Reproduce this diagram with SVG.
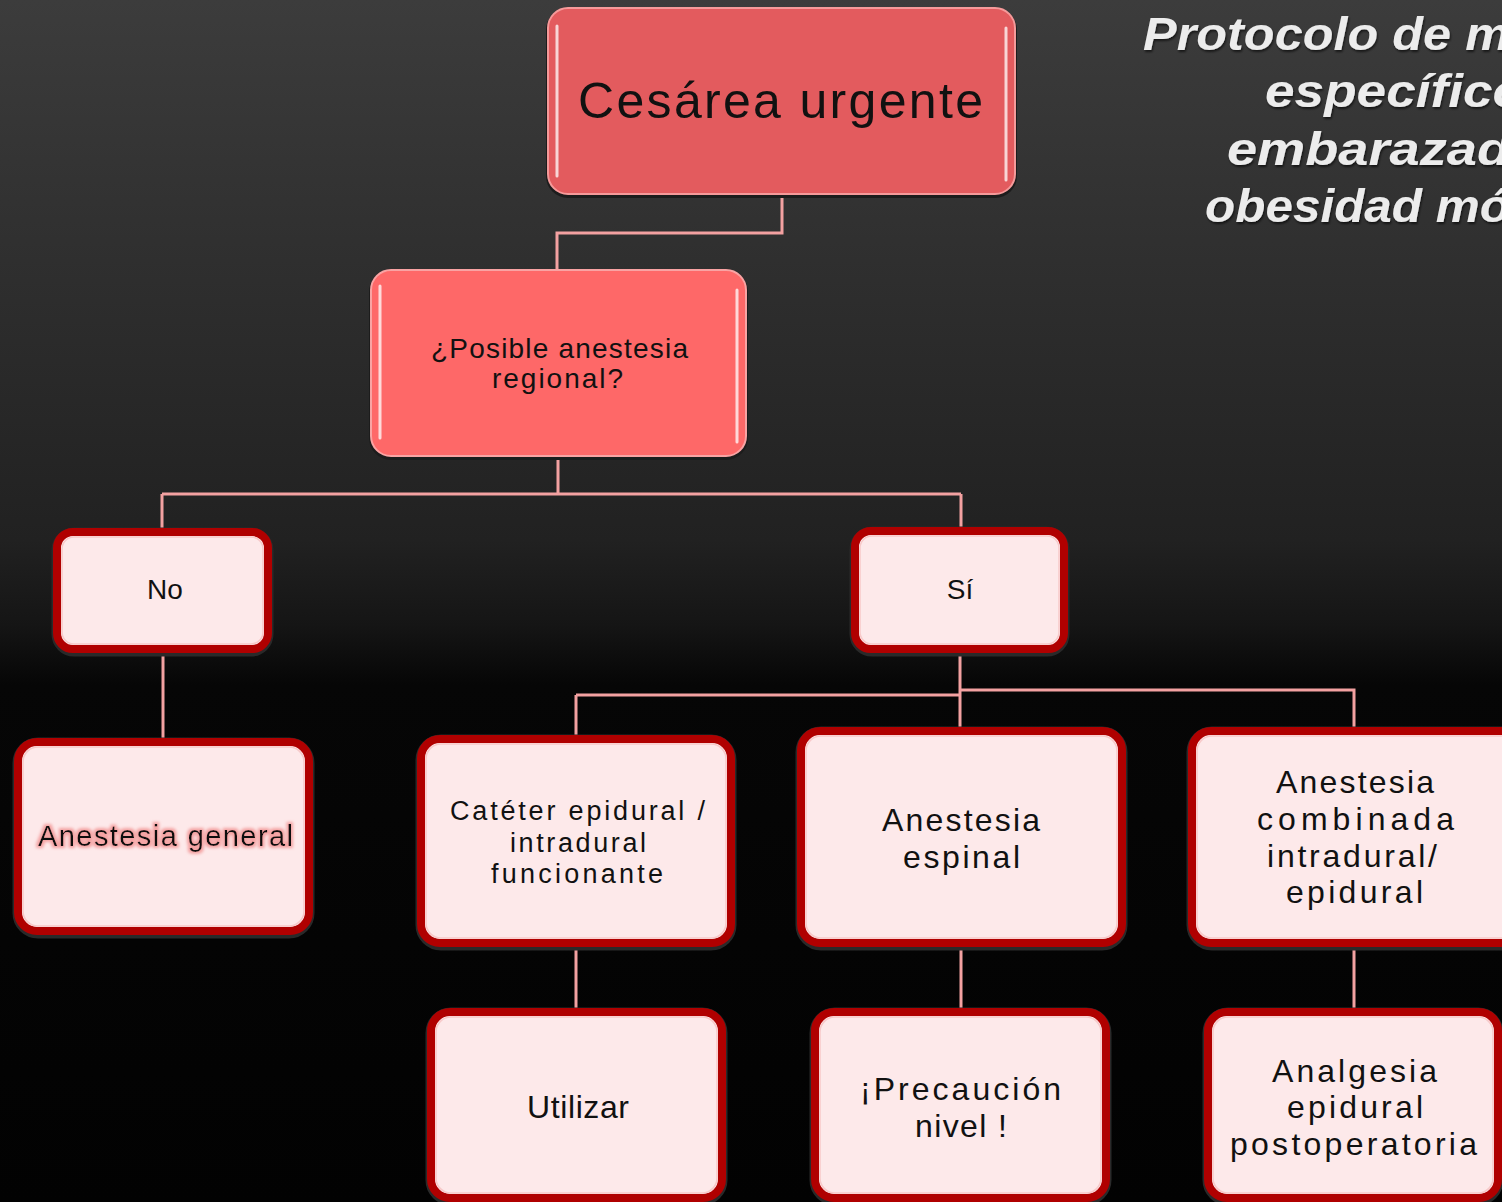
<svg xmlns="http://www.w3.org/2000/svg" width="1502" height="1202" viewBox="0 0 1502 1202">
  <defs>
    <linearGradient id="bg" x1="0" y1="0" x2="0" y2="1202" gradientUnits="userSpaceOnUse">
      <stop offset="0" stop-color="#3c3c3c"/>
      <stop offset="0.45" stop-color="#212121"/>
      <stop offset="0.52" stop-color="#151515"/>
      <stop offset="0.57" stop-color="#060606"/>
      <stop offset="1" stop-color="#020202"/>
    </linearGradient>
    <filter id="glow" x="-10%" y="-40%" width="120%" height="180%">
      <feMorphology in="SourceAlpha" operator="dilate" radius="2" result="d"/>
      <feGaussianBlur in="d" stdDeviation="1.5" result="b"/>
      <feFlood flood-color="#f4a3a3"/>
      <feComposite in2="b" operator="in" result="g"/>
      <feMerge><feMergeNode in="g"/><feMergeNode in="SourceGraphic"/></feMerge>
    </filter>
    <filter id="tshadow" x="-5%" y="-20%" width="110%" height="140%">
      <feGaussianBlur in="SourceAlpha" stdDeviation="1" result="b"/>
      <feOffset in="b" dx="1" dy="2" result="o"/>
      <feFlood flood-color="#000" flood-opacity="0.6"/>
      <feComposite in2="o" operator="in" result="s"/>
      <feMerge><feMergeNode in="s"/><feMergeNode in="SourceGraphic"/></feMerge>
    </filter>
  </defs>
  <style>
    .t { font-family: "Liberation Sans", Arial, sans-serif; fill: #111; }
    .title { font-family: "Liberation Sans", Arial, sans-serif; font-style: italic; font-weight: bold; fill: #ececec; font-size: 46px; }
    .shadow { fill: #1c1c1c; }
    .lite { fill: #fde9ea; stroke: #b00000; stroke-width: 8; }
    .liteIn { fill: none; stroke: #f7c9c9; stroke-width: 1.5; }
    .liteSh { fill: none; stroke: #2a2a2a; stroke-width: 11; }
    .hl { stroke: #ffffff; stroke-width: 3; stroke-linecap: round; opacity: 0.75; }
    .conn { fill: none; stroke: #f3a1a1; stroke-width: 3; }
  </style>

  <rect x="0" y="0" width="1502" height="1202" fill="url(#bg)"/>

  <g id="title" filter="url(#tshadow)">
    <text class="title" x="1143" y="50" textLength="367" lengthAdjust="spacingAndGlyphs">Protocolo de m</text>
    <text class="title" x="1265" y="107" textLength="260" lengthAdjust="spacingAndGlyphs">específico</text>
    <text class="title" x="1227" y="165" textLength="283" lengthAdjust="spacingAndGlyphs">embarazad</text>
    <text class="title" x="1205" y="222" textLength="305" lengthAdjust="spacingAndGlyphs">obesidad mó</text>
  </g>

  <g id="connectors">
    <path class="conn" d="M782,195 V233 H557 V270"/>
    <path class="conn" d="M558,457 V494 M162,494 H961 M162,494 V529 M961,494 V529"/>
    <path class="conn" d="M163,653 V738"/>
    <path class="conn" d="M960,653 V727 M576,695 H960 M576,695 V735 M960,690 H1354 V727"/>
    <path class="conn" d="M576,947 V1008 M961,947 V1008 M1354,947 V1008"/>
  </g>

  <g id="n-cesarea">
    <rect class="shadow" x="546" y="8" width="471" height="190" rx="22"/>
    <rect x="548" y="8" width="467" height="186" rx="20" fill="#e35b5e" stroke="#f59a9a" stroke-width="2"/>
    <line class="hl" x1="557" y1="26" x2="557" y2="176"/>
    <line class="hl" x1="1006" y1="28" x2="1006" y2="180"/>
    <text class="t" x="578" y="118" font-size="50" textLength="405" lengthAdjust="spacing">Cesárea urgente</text>
  </g>

  <g id="n-posible">
    <rect class="shadow" x="369" y="270" width="379" height="190" rx="22"/>
    <rect x="371" y="270" width="375" height="186" rx="20" fill="#fe6868" stroke="#f9a3a3" stroke-width="2"/>
    <line class="hl" x1="380" y1="286" x2="380" y2="438"/>
    <line class="hl" x1="737" y1="290" x2="737" y2="442"/>
    <text class="t" x="431" y="358" font-size="28" textLength="257" lengthAdjust="spacing">¿Posible anestesia</text>
    <text class="t" x="492" y="388" font-size="28" textLength="131" lengthAdjust="spacing">regional?</text>
  </g>

  <g id="n-no">
    <rect class="liteSh" x="57" y="533" width="211" height="118" rx="17"/>
    <rect class="lite" x="57" y="532" width="211" height="117" rx="16"/>
    <rect class="liteIn" x="62" y="537" width="201" height="107" rx="12"/>
    <text class="t" x="165" y="599" font-size="28" text-anchor="middle">No</text>
  </g>

  <g id="n-si">
    <rect class="liteSh" x="855" y="532" width="209" height="119" rx="17"/>
    <rect class="lite" x="855" y="531" width="209" height="118" rx="16"/>
    <rect class="liteIn" x="860" y="536" width="199" height="108" rx="12"/>
    <text class="t" x="960" y="599" font-size="28" text-anchor="middle">Sí</text>
  </g>

  <g id="n-general">
    <rect class="liteSh" x="18" y="743" width="291" height="190" rx="20"/>
    <rect class="lite" x="18" y="742" width="291" height="189" rx="19"/>
    <rect class="liteIn" x="23" y="747" width="281" height="179" rx="15"/>
    <text class="t" x="38" y="846" font-size="29" textLength="255" lengthAdjust="spacing" filter="url(#glow)">Anestesia general</text>
  </g>

  <g id="n-cateter">
    <rect class="liteSh" x="421" y="740" width="310" height="205" rx="20"/>
    <rect class="lite" x="421" y="739" width="310" height="204" rx="19"/>
    <rect class="liteIn" x="426" y="744" width="300" height="194" rx="15"/>
    <text class="t" x="450" y="820" font-size="27" textLength="255" lengthAdjust="spacing">Catéter epidural /</text>
    <text class="t" x="510" y="852" font-size="27" textLength="136" lengthAdjust="spacing">intradural</text>
    <text class="t" x="491" y="883" font-size="27" textLength="172" lengthAdjust="spacing">funcionante</text>
  </g>

  <g id="n-espinal">
    <rect class="liteSh" x="801" y="732" width="321" height="213" rx="20"/>
    <rect class="lite" x="801" y="731" width="321" height="212" rx="19"/>
    <rect class="liteIn" x="806" y="736" width="311" height="202" rx="15"/>
    <text class="t" x="882" y="831" font-size="32" textLength="158" lengthAdjust="spacing">Anestesia</text>
    <text class="t" x="903" y="868" font-size="32" textLength="117" lengthAdjust="spacing">espinal</text>
  </g>

  <g id="n-combinada">
    <rect class="liteSh" x="1192" y="732" width="330" height="213" rx="20"/>
    <rect class="lite" x="1192" y="731" width="330" height="212" rx="19"/>
    <rect class="liteIn" x="1197" y="736" width="320" height="202" rx="15"/>
    <text class="t" x="1276" y="793" font-size="32" textLength="158" lengthAdjust="spacing">Anestesia</text>
    <text class="t" x="1257" y="830" font-size="32" textLength="197" lengthAdjust="spacing">combinada</text>
    <text class="t" x="1267" y="867" font-size="32" textLength="170" lengthAdjust="spacing">intradural/</text>
    <text class="t" x="1286" y="903" font-size="32" textLength="137" lengthAdjust="spacing">epidural</text>
  </g>

  <g id="n-utilizar">
    <rect class="liteSh" x="431" y="1013" width="291" height="187" rx="20"/>
    <rect class="lite" x="431" y="1012" width="291" height="186" rx="19"/>
    <rect class="liteIn" x="436" y="1017" width="281" height="176" rx="15"/>
    <text class="t" x="527" y="1118" font-size="32" textLength="102" lengthAdjust="spacing">Utilizar</text>
  </g>

  <g id="n-precaucion">
    <rect class="liteSh" x="815" y="1013" width="291" height="187" rx="20"/>
    <rect class="lite" x="815" y="1012" width="291" height="186" rx="19"/>
    <rect class="liteIn" x="820" y="1017" width="281" height="176" rx="15"/>
    <text class="t" x="860" y="1100" font-size="32" textLength="201" lengthAdjust="spacing">¡Precaución</text>
    <text class="t" x="915" y="1137" font-size="32" textLength="92" lengthAdjust="spacing">nivel !</text>
  </g>

  <g id="n-analgesia">
    <rect class="liteSh" x="1208" y="1013" width="290" height="187" rx="20"/>
    <rect class="lite" x="1208" y="1012" width="290" height="186" rx="19"/>
    <rect class="liteIn" x="1213" y="1017" width="280" height="176" rx="15"/>
    <text class="t" x="1272" y="1082" font-size="32" textLength="165" lengthAdjust="spacing">Analgesia</text>
    <text class="t" x="1287" y="1118" font-size="32" textLength="136" lengthAdjust="spacing">epidural</text>
    <text class="t" x="1230" y="1155" font-size="32" textLength="247" lengthAdjust="spacing">postoperatoria</text>
  </g>
</svg>
